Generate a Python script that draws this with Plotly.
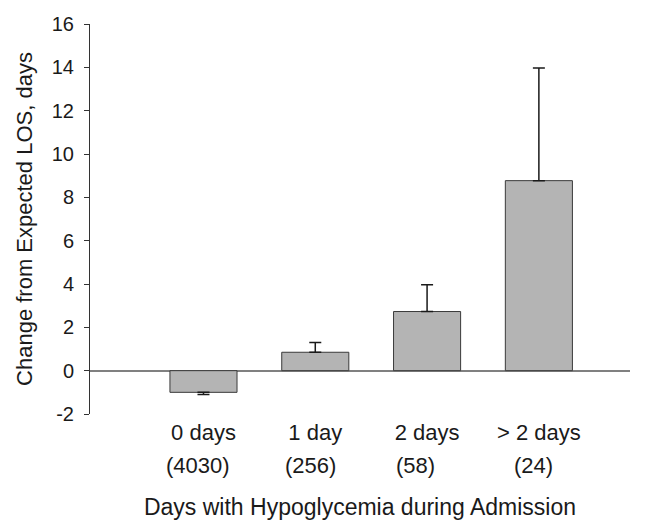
import plotly.graph_objects as go

categories = ["0 days", "1 day", "2 days", "> 2 days"]
counts = ["(4030)", "(256)", "(58)", "(24)"]
values = [-1.0, 0.85, 2.73, 8.77]
err_plus = [0.0, 0.45, 1.23, 5.2]
err_minus = [0.1, 0.0, 0.0, 0.0]
count_shift = [-5, -5, -12, -5]
yticks = [-2, 0, 2, 4, 6, 8, 10, 12, 14, 16]
ytick_labels = ["-2", "0", "2", "4", "6", "8", "10", "12", "14", "16"]

FONT = "Liberation Sans, Arial, sans-serif"
xpos = list(range(len(categories)))

fig = go.Figure()
fig.add_trace(go.Bar(
    x=xpos, y=values, width=0.6,
    marker=dict(color="#b4b4b4", line=dict(color="#3a3a3a", width=1)),
    error_y=dict(type="data", symmetric=False, array=err_plus, arrayminus=err_minus,
                 color="#1a1a1a", thickness=1.5, width=6),
    showlegend=False,
))

for i, c in enumerate(counts):
    fig.add_annotation(x=xpos[i], y=0, yref="paper", yanchor="top", yshift=-37,
                       xshift=count_shift[i], text=c, showarrow=False,
                       font=dict(family=FONT, size=22, color="#1a1a1a"))

fig.update_layout(
    width=647, height=521,
    margin=dict(l=82, r=25, t=16, b=115),
    paper_bgcolor="white", plot_bgcolor="white",
    font=dict(family=FONT, color="#1a1a1a"),
    xaxis=dict(
        range=[-1.015, 3.815], tickvals=xpos, ticktext=categories,
        showline=False, showgrid=False, zeroline=False, ticks="",
        tickfont=dict(size=22), ticklabelstandoff=3,
        title=dict(text="Days with Hypoglycemia during Admission",
                   font=dict(size=23), standoff=54),
        automargin=False,
    ),
    yaxis=dict(
        range=[-2, 16], tickvals=yticks, ticktext=ytick_labels, showgrid=False,
        showline=True, linecolor="#333333", linewidth=1,
        ticks="outside", ticklen=5, tickcolor="#333333", tickwidth=1,
        tickfont=dict(size=20), ticklabelstandoff=6,
        zeroline=True, zerolinecolor="#808080", zerolinewidth=1.5,
        title=dict(text="Change from Expected LOS, days", font=dict(size=22), standoff=13),
        automargin=False,
    ),
)

fig.write_html("out.html")
